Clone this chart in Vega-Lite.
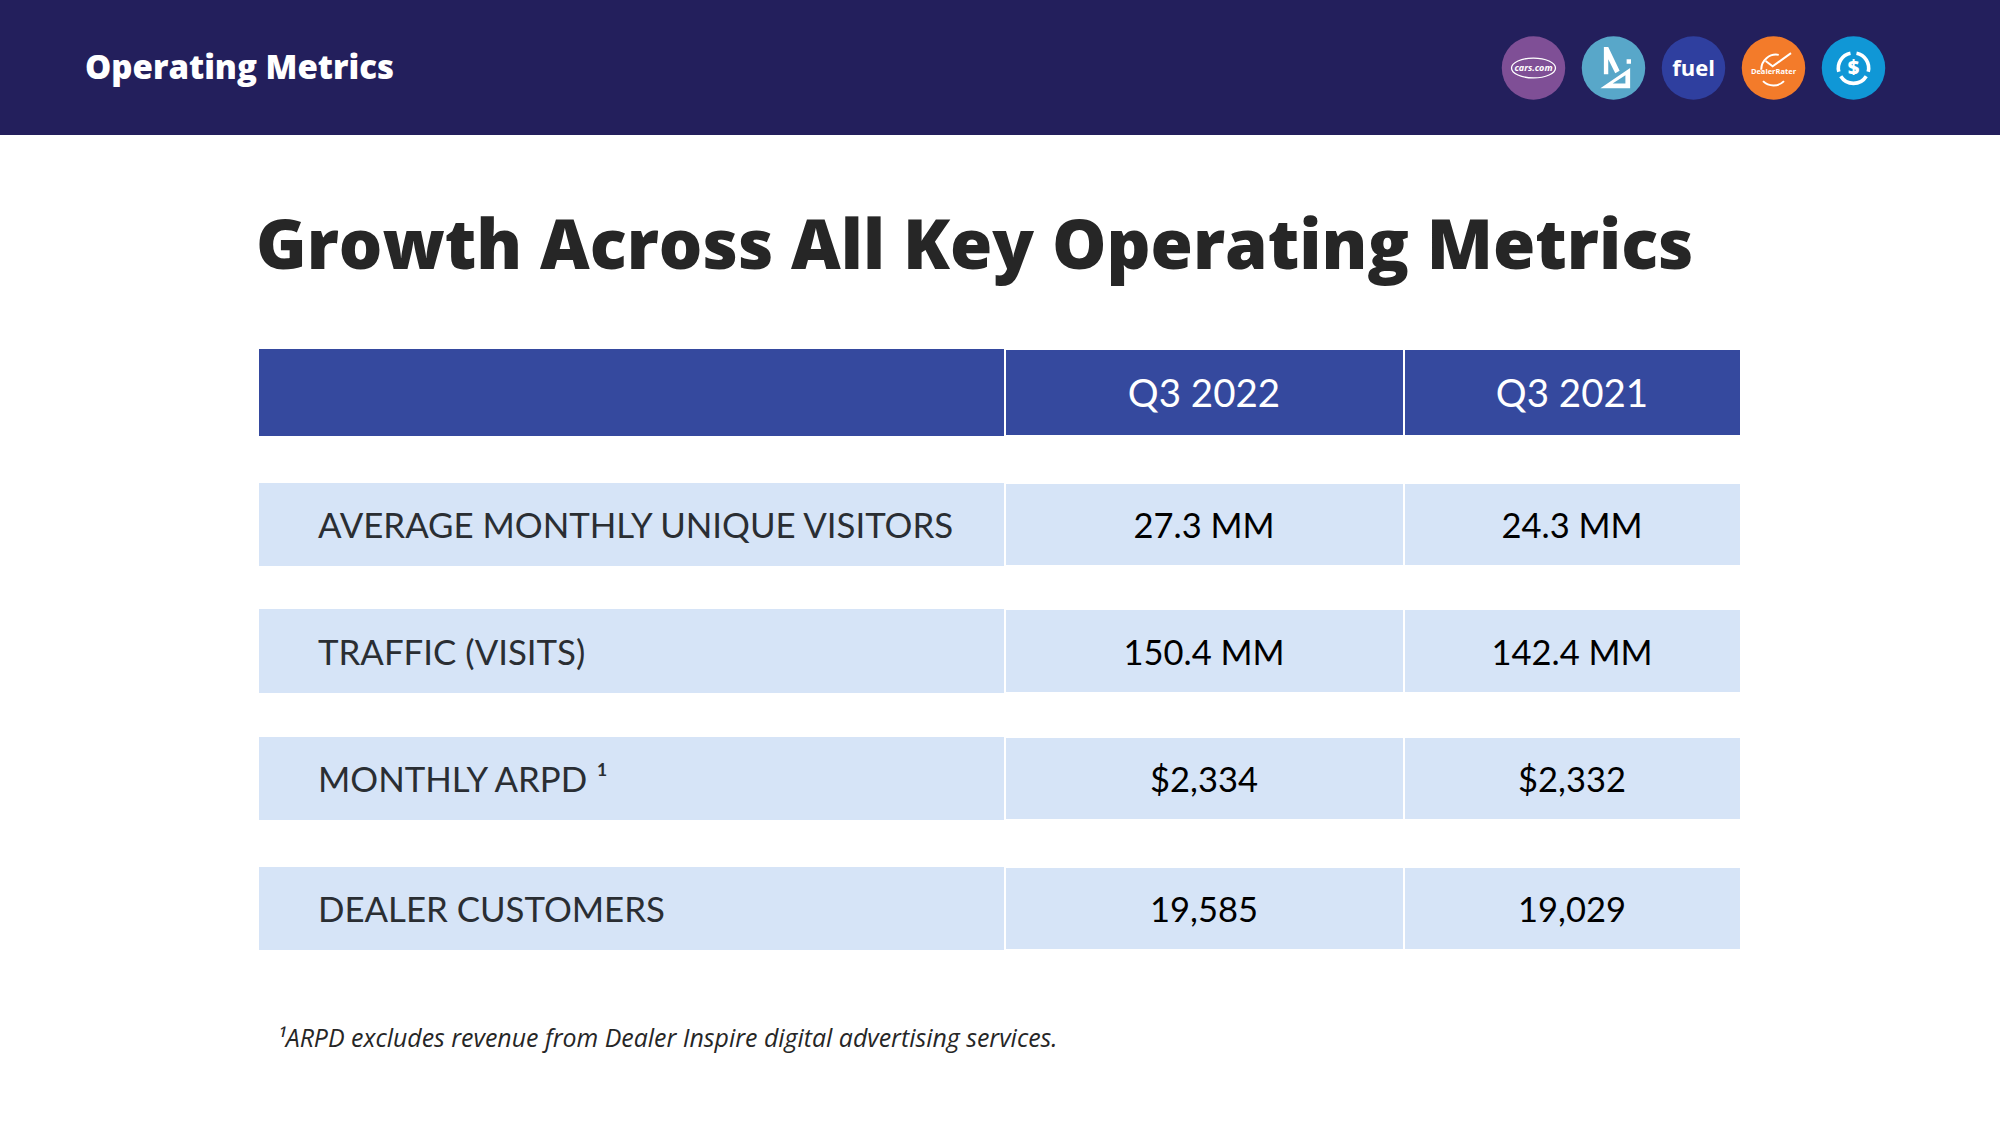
{"$schema":"https://vega.github.io/schema/vega-lite/v6.json","width":2000,"height":1125,"padding":0,"autosize":{"type":"fit","contains":"padding"},"background":"#ffffff","config":{"view":{"stroke":null},"axis":{"domain":false}},"datasets":{"table":[{"row":"Header","column":"Metric","text":""},{"row":"Header","column":"Q3 2022","text":"Q3 2022"},{"row":"Header","column":"Q3 2021","text":"Q3 2021"},{"row":"Visitors","column":"Metric","text":"AVERAGE MONTHLY UNIQUE VISITORS"},{"row":"Visitors","column":"Q3 2022","text":"27.3 MM"},{"row":"Visitors","column":"Q3 2021","text":"24.3 MM"},{"row":"Traffic","column":"Metric","text":"TRAFFIC (VISITS)"},{"row":"Traffic","column":"Q3 2022","text":"150.4 MM"},{"row":"Traffic","column":"Q3 2021","text":"142.4 MM"},{"row":"ARPD","column":"Metric","text":"MONTHLY ARPD ¹"},{"row":"ARPD","column":"Q3 2022","text":"$2,334"},{"row":"ARPD","column":"Q3 2021","text":"$2,332"},{"row":"Dealers","column":"Metric","text":"DEALER CUSTOMERS"},{"row":"Dealers","column":"Q3 2022","text":"19,585"},{"row":"Dealers","column":"Q3 2021","text":"19,029"}],"slide":[{"element":"band","text":""},{"element":"section","text":"Operating Metrics"},{"element":"headline","text":"Growth Across All Key Operating Metrics"},{"element":"note","text":"¹ARPD excludes revenue from Dealer Inspire digital advertising services."}],"logos":[{"brand":"Cars","text":"cars.com","tone":"Cars"},{"brand":"Inspire","text":"","tone":"Inspire"},{"brand":"Fuel","text":"fuel","tone":"Fuel"},{"brand":"Rater","text":"DealerRater","tone":"Rater"},{"brand":"Cash","text":"$","tone":"Cash"}]},"resolve":{"scale":{"x":"independent","y":"independent"}},"layer":[
{"data":{"name":"slide"},"transform":[{"filter":"datum.element==='band'"}],"mark":{"type":"rect","color":"#231f5c"},"encoding":{"x":{"field":"element","type":"nominal","axis":null,"scale":{"type":"band","domain":["band"],"range":[0,2000],"padding":0}},"y":{"field":"element","type":"nominal","axis":null,"scale":{"type":"band","domain":["band"],"range":[0,135],"padding":0}}}},
{"data":{"name":"slide"},"transform":[{"filter":"datum.element==='section'"}],"mark":{"type":"text","align":"left","baseline":"middle","font":"Open Sans","fontWeight":800,"fontSize":33,"color":"#ffffff"},"encoding":{"text":{"field":"text"},"x":{"field":"element","type":"nominal","axis":null,"scale":{"type":"point","domain":["section"],"range":[85,85]}},"y":{"field":"element","type":"nominal","axis":null,"scale":{"type":"point","domain":["section"],"range":[68.5,68.5]}}}},
{"data":{"name":"slide"},"transform":[{"filter":"datum.element==='headline'"}],"mark":{"type":"text","align":"left","baseline":"middle","font":"Open Sans","fontWeight":800,"fontSize":68.5,"color":"#262626"},"encoding":{"text":{"field":"text"},"x":{"field":"element","type":"nominal","axis":null,"scale":{"type":"point","domain":["headline"],"range":[256,256]}},"y":{"field":"element","type":"nominal","axis":null,"scale":{"type":"point","domain":["headline"],"range":[248,248]}}}},
{"data":{"name":"slide"},"transform":[{"filter":"datum.element==='note'"}],"mark":{"type":"text","align":"left","baseline":"middle","font":"Open Sans","fontStyle":"italic","fontSize":24.9,"color":"#262626"},"encoding":{"text":{"field":"text"},"x":{"field":"element","type":"nominal","axis":null,"scale":{"type":"point","domain":["note"],"range":[277,277]}},"y":{"field":"element","type":"nominal","axis":null,"scale":{"type":"point","domain":["note"],"range":[1040,1040]}}}},

{"data":{"name":"logos"},"mark":{"type":"point","filled":true,"opacity":1,"size":4030,"shape":"circle"},"encoding":{"color":{"field":"tone","type":"nominal","legend":null,"scale":{"domain":["Cars","Inspire","Fuel","Rater","Cash"],"range":["#7f4f96","#58a7c9","#2f3f9f","#f37b2a","#1097d6"]}},"x":{"field":"brand","type":"nominal","axis":null,"scale":{"type":"point","domain":["Cars","Inspire","Fuel","Rater","Cash"],"range":[1533.5,1853.5],"padding":0}},"y":{"field":"brand","type":"nominal","axis":null,"scale":{"type":"point","domain":["Cars","Inspire","Fuel","Rater","Cash"],"range":[68,68]}}}},
{"data":{"name":"logos"},"transform":[{"filter":"datum.brand==='Cars'"}],"mark":{"type":"point","filled":false,"opacity":1,"size":1936,"stroke":"#ffffff","strokeWidth":1.3,"shape":"M-1,0 A1,0.45 0 1 1 1,0 A1,0.45 0 1 1 -1,0 Z"},"encoding":{"x":{"field":"brand","type":"nominal","axis":null,"scale":{"type":"point","domain":["Cars","Inspire","Fuel","Rater","Cash"],"range":[1533.5,1853.5],"padding":0}},"y":{"field":"brand","type":"nominal","axis":null,"scale":{"type":"point","domain":["Cars","Inspire","Fuel","Rater","Cash"],"range":[68,68]}}}},
{"data":{"name":"logos"},"transform":[{"filter":"datum.brand==='Inspire'"}],"mark":{"type":"point","filled":true,"opacity":1,"size":1225,"color":"#ffffff","shape":"M-0.55,-1.2 L-0.3,-1.2 L0.35,0.15 L0.1,0.3 L-0.3,-0.5 L-0.3,0.35 L-0.55,0.35 Z M-0.75,1.15 L0.95,1.15 L0.95,0 Z M-0.05,0.88 L0.68,0.42 L0.68,0.88 Z M0.75,-0.5 L1,-0.5 L1,-0.25 L0.75,-0.25 Z"},"encoding":{"x":{"field":"brand","type":"nominal","axis":null,"scale":{"type":"point","domain":["Cars","Inspire","Fuel","Rater","Cash"],"range":[1533.5,1853.5],"padding":0}},"y":{"field":"brand","type":"nominal","axis":null,"scale":{"type":"point","domain":["Cars","Inspire","Fuel","Rater","Cash"],"range":[68,68]}}}},
{"data":{"name":"logos"},"transform":[{"filter":"datum.brand==='Rater'"}],"mark":{"type":"point","filled":false,"opacity":1,"size":1225,"stroke":"#ffffff","strokeWidth":2,"shape":"M-0.7,0.1 A0.85,0.85 0 0 1 0.3,-0.75 M-0.45,-0.4 L-0.05,-0.1 L1,-0.85 M-0.6,0.75 A0.85,0.85 0 0 0 0.6,0.75"},"encoding":{"x":{"field":"brand","type":"nominal","axis":null,"scale":{"type":"point","domain":["Cars","Inspire","Fuel","Rater","Cash"],"range":[1533.5,1853.5],"padding":0}},"y":{"field":"brand","type":"nominal","axis":null,"scale":{"type":"point","domain":["Cars","Inspire","Fuel","Rater","Cash"],"range":[68,68]}}}},
{"data":{"name":"logos"},"transform":[{"filter":"datum.brand==='Cash'"}],"mark":{"type":"point","filled":false,"opacity":1,"size":900,"stroke":"#ffffff","strokeWidth":3.6,"shape":"M-0.2,-0.98 A1,1 0 0 0 -0.98,0.25 M0.2,-0.98 A1,1 0 0 1 0.98,0.25 M-0.85,0.55 A1,1 0 0 0 0.85,0.55"},"encoding":{"x":{"field":"brand","type":"nominal","axis":null,"scale":{"type":"point","domain":["Cars","Inspire","Fuel","Rater","Cash"],"range":[1533.5,1853.5],"padding":0}},"y":{"field":"brand","type":"nominal","axis":null,"scale":{"type":"point","domain":["Cars","Inspire","Fuel","Rater","Cash"],"range":[68,68]}}}},
{"data":{"name":"logos"},"transform":[{"filter":"datum.brand==='Cars'"}],"mark":{"type":"text","font":"Open Sans","fontWeight":700,"fontStyle":"italic","fontSize":9,"color":"#ffffff","baseline":"middle"},"encoding":{"text":{"field":"text"},"x":{"field":"brand","type":"nominal","axis":null,"scale":{"type":"point","domain":["Cars","Inspire","Fuel","Rater","Cash"],"range":[1533.5,1853.5],"padding":0}},"y":{"field":"brand","type":"nominal","axis":null,"scale":{"type":"point","domain":["Cars","Inspire","Fuel","Rater","Cash"],"range":[68,68]}}}},
{"data":{"name":"logos"},"transform":[{"filter":"datum.brand==='Fuel'"}],"mark":{"type":"text","font":"Open Sans","fontWeight":700,"fontSize":22,"color":"#ffffff","baseline":"middle"},"encoding":{"text":{"field":"text"},"x":{"field":"brand","type":"nominal","axis":null,"scale":{"type":"point","domain":["Cars","Inspire","Fuel","Rater","Cash"],"range":[1533.5,1853.5],"padding":0}},"y":{"field":"brand","type":"nominal","axis":null,"scale":{"type":"point","domain":["Cars","Inspire","Fuel","Rater","Cash"],"range":[69,69]}}}},
{"data":{"name":"logos"},"transform":[{"filter":"datum.brand==='Rater'"}],"mark":{"type":"text","font":"Open Sans","fontWeight":700,"fontSize":7.5,"color":"#ffffff","baseline":"middle"},"encoding":{"text":{"field":"text"},"x":{"field":"brand","type":"nominal","axis":null,"scale":{"type":"point","domain":["Cars","Inspire","Fuel","Rater","Cash"],"range":[1533.5,1853.5],"padding":0}},"y":{"field":"brand","type":"nominal","axis":null,"scale":{"type":"point","domain":["Cars","Inspire","Fuel","Rater","Cash"],"range":[72,72]}}}},
{"data":{"name":"logos"},"transform":[{"filter":"datum.brand==='Cash'"}],"mark":{"type":"text","font":"Open Sans","fontWeight":800,"fontSize":20,"color":"#ffffff","baseline":"middle"},"encoding":{"text":{"field":"text"},"x":{"field":"brand","type":"nominal","axis":null,"scale":{"type":"point","domain":["Cars","Inspire","Fuel","Rater","Cash"],"range":[1533.5,1853.5],"padding":0}},"y":{"field":"brand","type":"nominal","axis":null,"scale":{"type":"point","domain":["Cars","Inspire","Fuel","Rater","Cash"],"range":[68,68]}}}},

{"data":{"name":"table"},"transform":[{"filter":"datum.row==='Header'&&datum.column==='Metric'"}],"mark":{"type":"rect","color":"#35499e"},"encoding":{"x":{"field":"column","type":"nominal","axis":null,"scale":{"type":"band","domain":["Metric"],"range":[259,1004],"padding":0}},"y":{"field":"row","type":"nominal","axis":null,"scale":{"type":"band","domain":["Header"],"range":[349,436],"padding":0}}}},
{"data":{"name":"table"},"transform":[{"filter":"datum.row==='Header'&&datum.column==='Q3 2022'"}],"mark":{"type":"rect","color":"#35499e"},"encoding":{"x":{"field":"column","type":"nominal","axis":null,"scale":{"type":"band","domain":["Q3 2022"],"range":[1006,1403],"padding":0}},"y":{"field":"row","type":"nominal","axis":null,"scale":{"type":"band","domain":["Header"],"range":[350,435],"padding":0}}}},
{"data":{"name":"table"},"transform":[{"filter":"datum.row==='Header'&&datum.column==='Q3 2021'"}],"mark":{"type":"rect","color":"#35499e"},"encoding":{"x":{"field":"column","type":"nominal","axis":null,"scale":{"type":"band","domain":["Q3 2021"],"range":[1405,1740],"padding":0}},"y":{"field":"row","type":"nominal","axis":null,"scale":{"type":"band","domain":["Header"],"range":[350,435],"padding":0}}}},
{"data":{"name":"table"},"transform":[{"filter":"datum.row==='Visitors'&&datum.column==='Metric'"}],"mark":{"type":"rect","color":"#d6e4f7"},"encoding":{"x":{"field":"column","type":"nominal","axis":null,"scale":{"type":"band","domain":["Metric"],"range":[259,1004],"padding":0}},"y":{"field":"row","type":"nominal","axis":null,"scale":{"type":"band","domain":["Visitors"],"range":[483,566],"padding":0}}}},
{"data":{"name":"table"},"transform":[{"filter":"datum.row==='Visitors'&&datum.column==='Q3 2022'"}],"mark":{"type":"rect","color":"#d6e4f7"},"encoding":{"x":{"field":"column","type":"nominal","axis":null,"scale":{"type":"band","domain":["Q3 2022"],"range":[1006,1403],"padding":0}},"y":{"field":"row","type":"nominal","axis":null,"scale":{"type":"band","domain":["Visitors"],"range":[484,565],"padding":0}}}},
{"data":{"name":"table"},"transform":[{"filter":"datum.row==='Visitors'&&datum.column==='Q3 2021'"}],"mark":{"type":"rect","color":"#d6e4f7"},"encoding":{"x":{"field":"column","type":"nominal","axis":null,"scale":{"type":"band","domain":["Q3 2021"],"range":[1405,1740],"padding":0}},"y":{"field":"row","type":"nominal","axis":null,"scale":{"type":"band","domain":["Visitors"],"range":[484,565],"padding":0}}}},
{"data":{"name":"table"},"transform":[{"filter":"datum.row==='Traffic'&&datum.column==='Metric'"}],"mark":{"type":"rect","color":"#d6e4f7"},"encoding":{"x":{"field":"column","type":"nominal","axis":null,"scale":{"type":"band","domain":["Metric"],"range":[259,1004],"padding":0}},"y":{"field":"row","type":"nominal","axis":null,"scale":{"type":"band","domain":["Traffic"],"range":[609,693],"padding":0}}}},
{"data":{"name":"table"},"transform":[{"filter":"datum.row==='Traffic'&&datum.column==='Q3 2022'"}],"mark":{"type":"rect","color":"#d6e4f7"},"encoding":{"x":{"field":"column","type":"nominal","axis":null,"scale":{"type":"band","domain":["Q3 2022"],"range":[1006,1403],"padding":0}},"y":{"field":"row","type":"nominal","axis":null,"scale":{"type":"band","domain":["Traffic"],"range":[610,692],"padding":0}}}},
{"data":{"name":"table"},"transform":[{"filter":"datum.row==='Traffic'&&datum.column==='Q3 2021'"}],"mark":{"type":"rect","color":"#d6e4f7"},"encoding":{"x":{"field":"column","type":"nominal","axis":null,"scale":{"type":"band","domain":["Q3 2021"],"range":[1405,1740],"padding":0}},"y":{"field":"row","type":"nominal","axis":null,"scale":{"type":"band","domain":["Traffic"],"range":[610,692],"padding":0}}}},
{"data":{"name":"table"},"transform":[{"filter":"datum.row==='ARPD'&&datum.column==='Metric'"}],"mark":{"type":"rect","color":"#d6e4f7"},"encoding":{"x":{"field":"column","type":"nominal","axis":null,"scale":{"type":"band","domain":["Metric"],"range":[259,1004],"padding":0}},"y":{"field":"row","type":"nominal","axis":null,"scale":{"type":"band","domain":["ARPD"],"range":[737,820],"padding":0}}}},
{"data":{"name":"table"},"transform":[{"filter":"datum.row==='ARPD'&&datum.column==='Q3 2022'"}],"mark":{"type":"rect","color":"#d6e4f7"},"encoding":{"x":{"field":"column","type":"nominal","axis":null,"scale":{"type":"band","domain":["Q3 2022"],"range":[1006,1403],"padding":0}},"y":{"field":"row","type":"nominal","axis":null,"scale":{"type":"band","domain":["ARPD"],"range":[738,819],"padding":0}}}},
{"data":{"name":"table"},"transform":[{"filter":"datum.row==='ARPD'&&datum.column==='Q3 2021'"}],"mark":{"type":"rect","color":"#d6e4f7"},"encoding":{"x":{"field":"column","type":"nominal","axis":null,"scale":{"type":"band","domain":["Q3 2021"],"range":[1405,1740],"padding":0}},"y":{"field":"row","type":"nominal","axis":null,"scale":{"type":"band","domain":["ARPD"],"range":[738,819],"padding":0}}}},
{"data":{"name":"table"},"transform":[{"filter":"datum.row==='Dealers'&&datum.column==='Metric'"}],"mark":{"type":"rect","color":"#d6e4f7"},"encoding":{"x":{"field":"column","type":"nominal","axis":null,"scale":{"type":"band","domain":["Metric"],"range":[259,1004],"padding":0}},"y":{"field":"row","type":"nominal","axis":null,"scale":{"type":"band","domain":["Dealers"],"range":[867,950],"padding":0}}}},
{"data":{"name":"table"},"transform":[{"filter":"datum.row==='Dealers'&&datum.column==='Q3 2022'"}],"mark":{"type":"rect","color":"#d6e4f7"},"encoding":{"x":{"field":"column","type":"nominal","axis":null,"scale":{"type":"band","domain":["Q3 2022"],"range":[1006,1403],"padding":0}},"y":{"field":"row","type":"nominal","axis":null,"scale":{"type":"band","domain":["Dealers"],"range":[868,949],"padding":0}}}},
{"data":{"name":"table"},"transform":[{"filter":"datum.row==='Dealers'&&datum.column==='Q3 2021'"}],"mark":{"type":"rect","color":"#d6e4f7"},"encoding":{"x":{"field":"column","type":"nominal","axis":null,"scale":{"type":"band","domain":["Q3 2021"],"range":[1405,1740],"padding":0}},"y":{"field":"row","type":"nominal","axis":null,"scale":{"type":"band","domain":["Dealers"],"range":[868,949],"padding":0}}}},

{"data":{"name":"table"},"transform":[{"filter":"datum.row==='Header'&&datum.column!=='Metric'"}],"mark":{"type":"text","font":"Lato","fontSize":38.5,"color":"#ffffff","baseline":"middle"},"encoding":{"text":{"field":"text"},"x":{"field":"column","type":"nominal","axis":null,"scale":{"type":"point","domain":["Q3 2022","Q3 2021"],"range":[1204,1572],"padding":0}},"y":{"field":"row","type":"nominal","axis":null,"scale":{"type":"point","domain":["Header"],"range":[394.5,394.5]}}}},
{"data":{"name":"table"},"transform":[{"filter":"datum.row==='Visitors'&&datum.column!=='Metric'"}],"mark":{"type":"text","font":"Lato","fontSize":34.5,"color":"#000000","baseline":"middle"},"encoding":{"text":{"field":"text"},"x":{"field":"column","type":"nominal","axis":null,"scale":{"type":"point","domain":["Q3 2022","Q3 2021"],"range":[1204,1572],"padding":0}},"y":{"field":"row","type":"nominal","axis":null,"scale":{"type":"point","domain":["Visitors"],"range":[527.5,527.5]}}}},
{"data":{"name":"table"},"transform":[{"filter":"datum.row==='Traffic'&&datum.column!=='Metric'"}],"mark":{"type":"text","font":"Lato","fontSize":34.5,"color":"#000000","baseline":"middle"},"encoding":{"text":{"field":"text"},"x":{"field":"column","type":"nominal","axis":null,"scale":{"type":"point","domain":["Q3 2022","Q3 2021"],"range":[1204,1572],"padding":0}},"y":{"field":"row","type":"nominal","axis":null,"scale":{"type":"point","domain":["Traffic"],"range":[654.5,654.5]}}}},
{"data":{"name":"table"},"transform":[{"filter":"datum.row==='ARPD'&&datum.column!=='Metric'"}],"mark":{"type":"text","font":"Lato","fontSize":34.5,"color":"#000000","baseline":"middle"},"encoding":{"text":{"field":"text"},"x":{"field":"column","type":"nominal","axis":null,"scale":{"type":"point","domain":["Q3 2022","Q3 2021"],"range":[1204,1572],"padding":0}},"y":{"field":"row","type":"nominal","axis":null,"scale":{"type":"point","domain":["ARPD"],"range":[781.5,781.5]}}}},
{"data":{"name":"table"},"transform":[{"filter":"datum.row==='Dealers'&&datum.column!=='Metric'"}],"mark":{"type":"text","font":"Lato","fontSize":34.5,"color":"#000000","baseline":"middle"},"encoding":{"text":{"field":"text"},"x":{"field":"column","type":"nominal","axis":null,"scale":{"type":"point","domain":["Q3 2022","Q3 2021"],"range":[1204,1572],"padding":0}},"y":{"field":"row","type":"nominal","axis":null,"scale":{"type":"point","domain":["Dealers"],"range":[911.5,911.5]}}}},
{"data":{"name":"table"},"transform":[{"filter":"datum.row==='Visitors'&&datum.column==='Metric'"}],"mark":{"type":"text","font":"Lato","fontSize":34.8,"color":"#2a2e33","baseline":"middle","align":"left"},"encoding":{"text":{"field":"text"},"x":{"field":"column","type":"nominal","axis":null,"scale":{"type":"point","domain":["Metric"],"range":[318,318]}},"y":{"field":"row","type":"nominal","axis":null,"scale":{"type":"point","domain":["Visitors"],"range":[527.5,527.5]}}}},
{"data":{"name":"table"},"transform":[{"filter":"datum.row==='Traffic'&&datum.column==='Metric'"}],"mark":{"type":"text","font":"Lato","fontSize":34.8,"color":"#2a2e33","baseline":"middle","align":"left"},"encoding":{"text":{"field":"text"},"x":{"field":"column","type":"nominal","axis":null,"scale":{"type":"point","domain":["Metric"],"range":[318,318]}},"y":{"field":"row","type":"nominal","axis":null,"scale":{"type":"point","domain":["Traffic"],"range":[654.5,654.5]}}}},
{"data":{"name":"table"},"transform":[{"filter":"datum.row==='ARPD'&&datum.column==='Metric'"}],"mark":{"type":"text","font":"Lato","fontSize":34.8,"color":"#2a2e33","baseline":"middle","align":"left"},"encoding":{"text":{"field":"text"},"x":{"field":"column","type":"nominal","axis":null,"scale":{"type":"point","domain":["Metric"],"range":[318,318]}},"y":{"field":"row","type":"nominal","axis":null,"scale":{"type":"point","domain":["ARPD"],"range":[781.5,781.5]}}}},
{"data":{"name":"table"},"transform":[{"filter":"datum.row==='Dealers'&&datum.column==='Metric'"}],"mark":{"type":"text","font":"Lato","fontSize":34.8,"color":"#2a2e33","baseline":"middle","align":"left"},"encoding":{"text":{"field":"text"},"x":{"field":"column","type":"nominal","axis":null,"scale":{"type":"point","domain":["Metric"],"range":[318,318]}},"y":{"field":"row","type":"nominal","axis":null,"scale":{"type":"point","domain":["Dealers"],"range":[911.5,911.5]}}}}
]}
